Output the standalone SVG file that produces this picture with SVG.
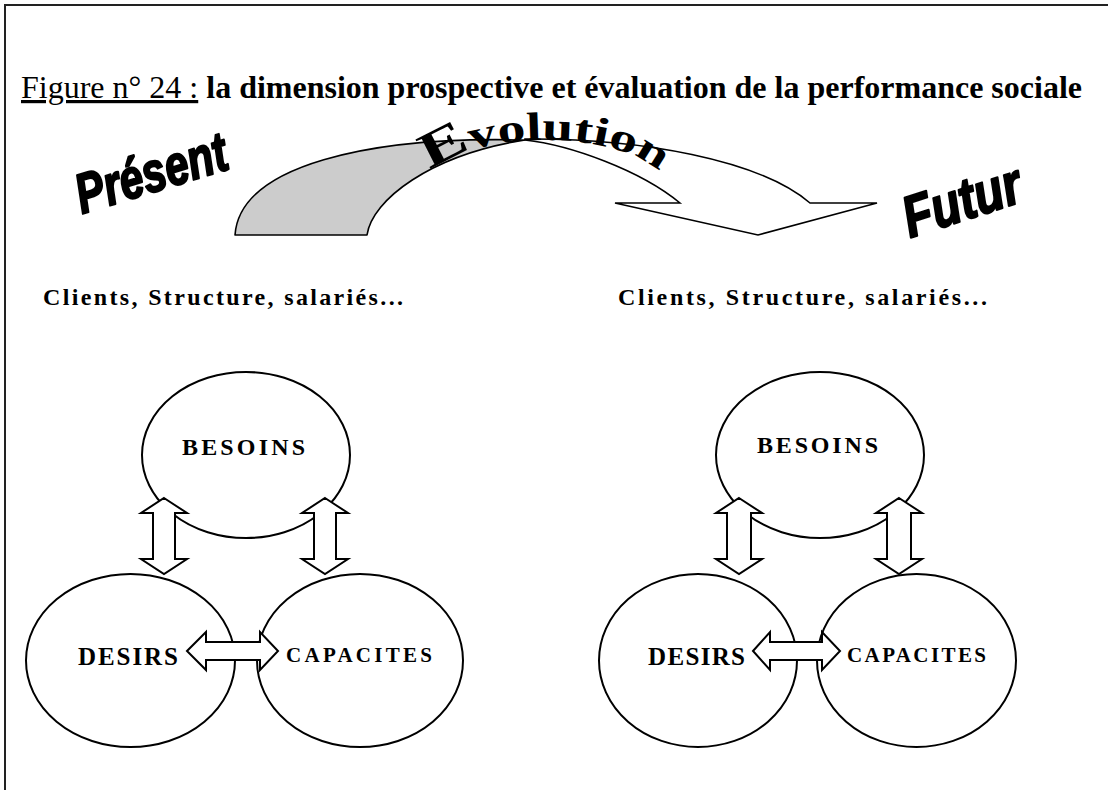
<svg xmlns="http://www.w3.org/2000/svg" width="1108" height="790" viewBox="0 0 1108 790">
  <style>
    .serif { font-family: "Liberation Serif", "Times New Roman", serif; }
    .lbl { font-family: "Liberation Serif", "Times New Roman", serif; font-weight: bold; fill: #000; }
    .node { fill: #fff; stroke: #000; stroke-width: 2; }
    .dbl { fill: #fff; stroke: #000; stroke-width: 2; stroke-linejoin: miter; }
    .art { font-family: "Liberation Sans", Arial, sans-serif; font-weight: bold; font-style: italic; fill: #000; stroke: #000; stroke-width: 2.2; stroke-linejoin: round; }
  </style>
  <defs>
    <path id="archPath" d="M423,190 A122,50 0 0 1 667,190"/>
  </defs>

  <rect x="0" y="0" width="1108" height="790" fill="#fff"/>
  <!-- page frame (open to the right and bottom) -->
  <rect x="5" y="5" width="1200" height="900" fill="none" stroke="#222" stroke-width="2"/>

  <!-- caption -->
  <g id="title">
    <text class="serif" x="21" y="98" font-size="32"><tspan text-decoration="underline">Figure n° 24 :</tspan><tspan font-weight="bold"> la dimension prospective et évaluation de la performance sociale</tspan></text>
  </g>

  <!-- curved arrow from present to future -->
  <g id="evolution-arrow">
    <path d="M235,235 L367,235 C372,200 430,155 525,140 C370,136 240,165 235,235 Z" fill="#ccc" stroke="#000" stroke-width="1.6" stroke-linejoin="round"/>
    <path d="M525,139 C640,138 760,160 810,203 L877,203 L758,235 L615,203 L680,203 C640,170 570,145 525,140 Z" fill="#fff" stroke="#000" stroke-width="1.6" stroke-linejoin="miter"/>
    <text class="serif" font-size="40" font-weight="bold" fill="#000">
      <textPath href="#archPath" startOffset="20" textLength="242" lengthAdjust="spacingAndGlyphs"><tspan font-size="50">E</tspan>volution</textPath>
    </text>
  </g>

  <g id="present-label">
    <text class="art" font-size="56" transform="translate(82,214) rotate(-17) scale(0.76,1)">Présent</text>
  </g>
  <g id="futur-label">
    <text class="art" font-size="58" transform="translate(910,238) rotate(-18) scale(0.82,1)">Futur</text>
  </g>

  <g id="scope-present">
    <text class="lbl" x="43" y="305" font-size="24" textLength="360" lengthAdjust="spacing">Clients, Structure, salariés...</text>
  </g>
  <g id="scope-futur">
    <text class="lbl" x="618" y="305" font-size="24" textLength="369" lengthAdjust="spacing">Clients, Structure, salariés...</text>
  </g>

  <!-- present cluster -->
  <g id="besoins-present">
    <ellipse class="node" cx="246" cy="455" rx="104" ry="83"/>
    <text class="lbl" x="182" y="455" font-size="24" textLength="123" lengthAdjust="spacing">BESOINS</text>
  </g>
  <g id="desirs-present">
    <ellipse class="node" cx="130.5" cy="660.5" rx="104.5" ry="86.5"/>
    <text class="lbl" x="78" y="665" font-size="25" textLength="100" lengthAdjust="spacing">DESIRS</text>
  </g>
  <g id="capacites-present">
    <ellipse class="node" cx="360" cy="660.5" rx="103" ry="86.5"/>
    <text class="lbl" x="286" y="662" font-size="21" textLength="146" lengthAdjust="spacing">CAPACITES</text>
  </g>

  <!-- future cluster -->
  <g id="besoins-futur">
    <ellipse class="node" cx="820" cy="455" rx="104" ry="83"/>
    <text class="lbl" x="757" y="453" font-size="24" textLength="121" lengthAdjust="spacing">BESOINS</text>
  </g>
  <g id="desirs-futur">
    <ellipse class="node" cx="698" cy="660.5" rx="99" ry="86.5"/>
    <text class="lbl" x="648" y="665" font-size="25" textLength="97" lengthAdjust="spacing">DESIRS</text>
  </g>
  <g id="capacites-futur">
    <ellipse class="node" cx="916.5" cy="660.5" rx="99.5" ry="86.5"/>
    <text class="lbl" x="847" y="662" font-size="21" textLength="139" lengthAdjust="spacing">CAPACITES</text>
  </g>

  <!-- two-headed block arrows between the circles -->
  <g id="connectors">
    <polygon class="dbl" points="164,498 187,513 175,513 175,559 187,559 164,574 141,559 153,559 153,513 141,513"/>
    <polygon class="dbl" points="325,498 348,513 336,513 336,559 348,559 325,574 302,559 314,559 314,513 302,513"/>
    <polygon class="dbl" points="187,651 206,632 206,642 260,642 260,632 278,651 260,670 260,660 206,660 206,670"/>
    <polygon class="dbl" points="739,498 762,513 751,513 751,559 762,559 739,574 716,559 727,559 727,513 716,513"/>
    <polygon class="dbl" points="899,498 922,513 911,513 911,559 922,559 899,574 876,559 887,559 887,513 876,513"/>
    <polygon class="dbl" points="753,651 770,632 770,642 822,642 822,632 840,651 822,670 822,660 770,660 770,670"/>
  </g>
</svg>
